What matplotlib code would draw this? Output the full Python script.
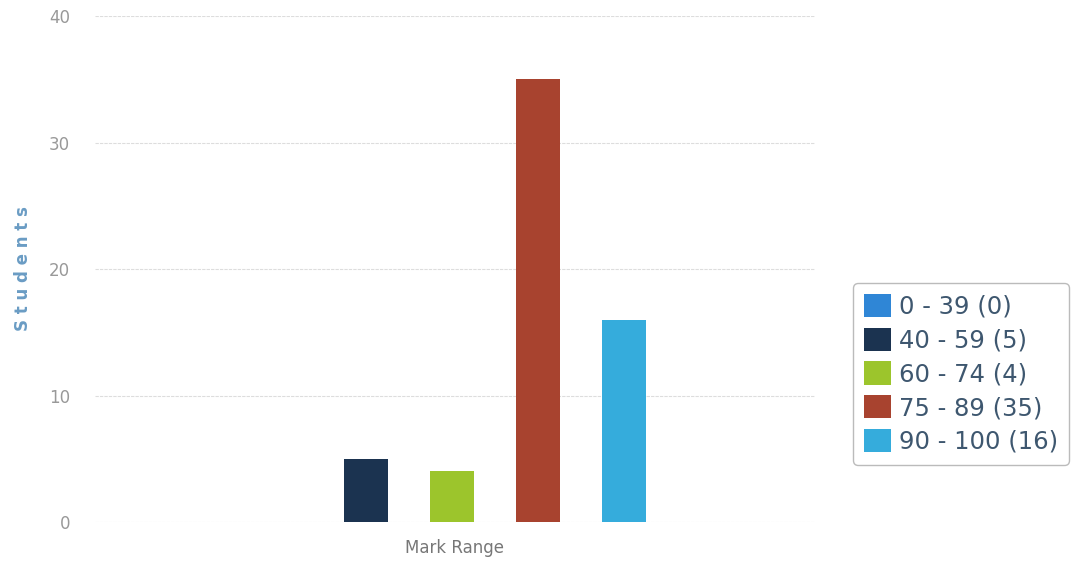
import matplotlib.pyplot as plt
import numpy as np

# data
ranges = ['0 - 39', '40 - 59', '60 - 74', '75 - 89', '90 - 100']
students = [0, 5, 4, 35, 16]
colors = ['#2f86d6', '#1b3350', '#9cc52c', '#a8432f', '#35acdc']
yticks = [0, 10, 20, 30, 40]

fig = plt.figure(figsize=(10.77, 5.64), dpi=100)
ax = fig.add_axes([0.0882, 0.0745, 0.6685, 0.897])

# gruppierte balken um eine kategorie
step = 0.1194
w = 0.061
offs = (np.arange(len(ranges)) - 2) * step - 0.004
for i in range(len(ranges)):
    ax.bar(offs[i], students[i], width=w, color=colors[i],
           label='%s (%d)' % (ranges[i], students[i]), zorder=3)

ax.set_xlim(-0.5, 0.5)
ax.set_ylim(0, 40)
ax.set_yticks(yticks)
ax.set_xticks([])
for s in ax.spines.values():
    s.set_visible(False)
ax.grid(axis='y', color='#dddddd', linewidth=0.8, linestyle=(0, (3, 1)))
ax.tick_params(axis='y', length=0, pad=18, labelsize=12, labelcolor='#999999')
ax.set_xlabel('Mark Range', color='#777777', fontsize=12, labelpad=12)
ax.set_ylabel('S t u d e n t s', color='#6a9cc4', fontsize=12,
              fontweight='bold', labelpad=12)

leg = fig.legend(loc='upper left', bbox_to_anchor=(0.792, 0.498),
                 fontsize=17.5, frameon=True, fancybox=True,
                 handlelength=1.1, handleheight=1.1, handletextpad=0.35,
                 labelspacing=0.36, borderpad=0.45, borderaxespad=0,
                 edgecolor='#aaaaaa')
for t in leg.get_texts():
    t.set_color('#3e576f')

plt.savefig('out.png', dpi=100)
